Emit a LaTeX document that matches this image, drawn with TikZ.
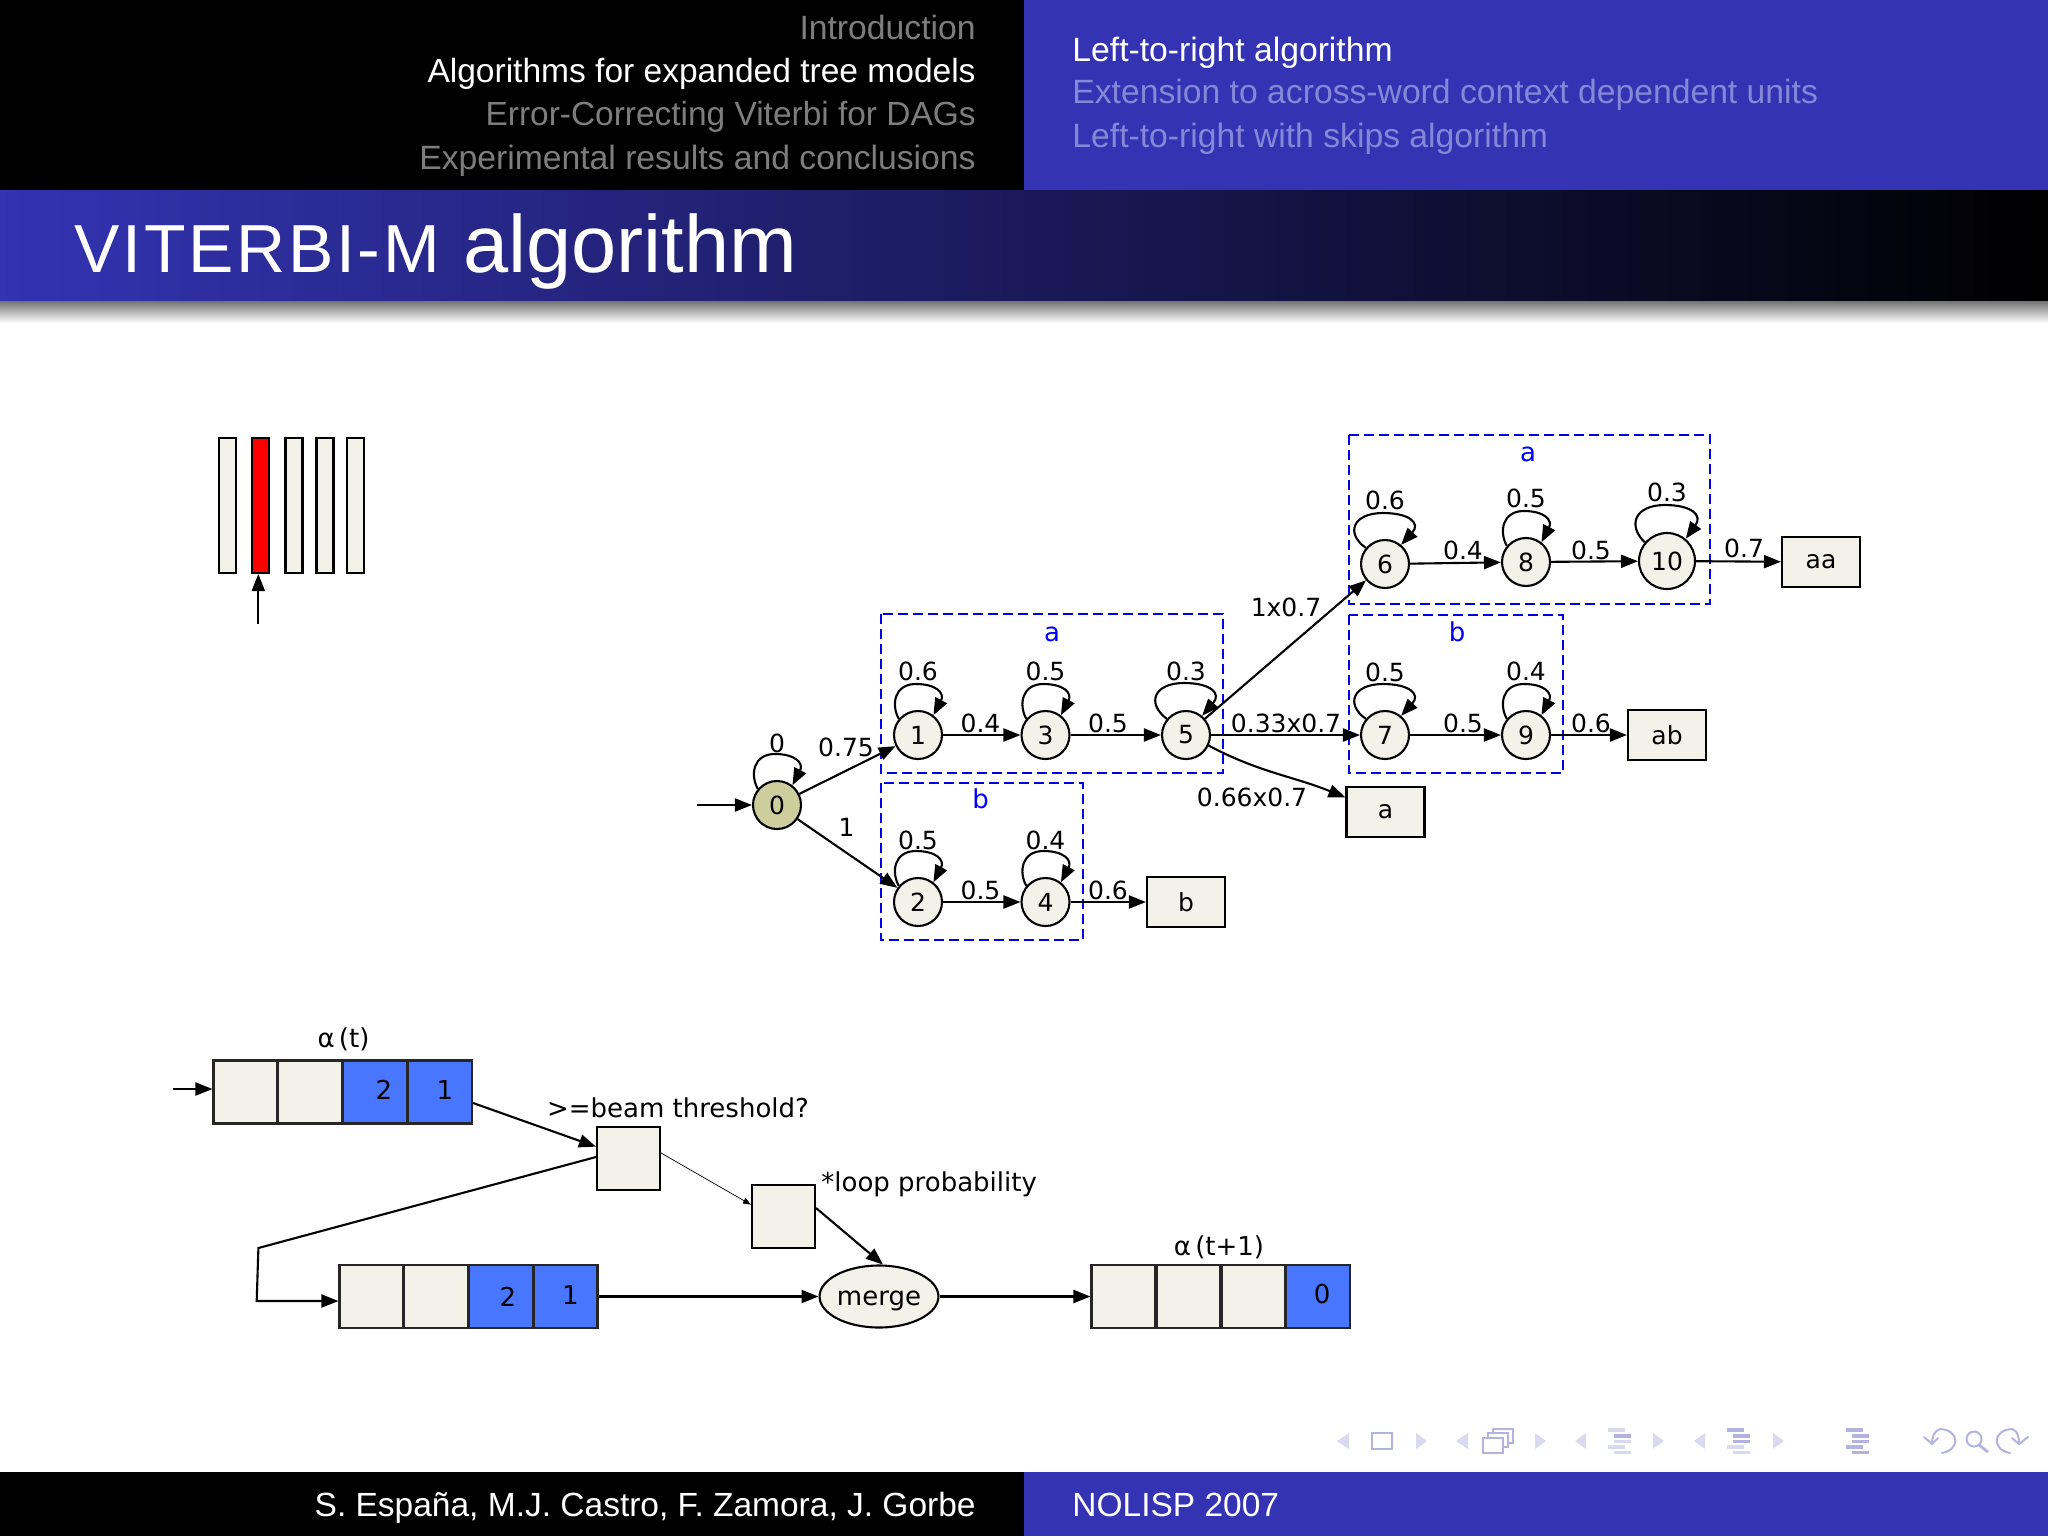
\documentclass[tikz,border=0pt]{standalone}
\usepackage{fontspec}
\setmainfont{Liberation Sans}
\newfontfamily\dvfont{DejaVu Sans}
\usetikzlibrary{arrows.meta,shapes.geometric,calc}
\definecolor{bblue}{RGB}{51,51,179}
\definecolor{ivory}{RGB}{242,242,233}
\definecolor{khaki}{RGB}{205,205,158}
\definecolor{cellblue}{RGB}{72,118,255}
\definecolor{navdark}{RGB}{179,179,225}
\definecolor{navlight}{RGB}{217,217,240}
\definecolor{dimgray}{RGB}{125,125,125}
\definecolor{dimblue}{RGB}{135,135,215}
\tikzset{
  x=0.5pt,y=0.5pt,
  conn/.style={line width=1.05pt,-{Triangle[length=8.5pt,width=6.5pt]}},
  thinconn/.style={line width=0.35pt,-{Triangle[length=4pt,width=3pt]}},
  st/.style={circle,draw=black,line width=1.05pt,fill=ivory,minimum size=24pt,inner sep=0pt,font=\dvfont\fontsize{12.5}{14}\selectfont},
  fin/.style={rectangle,draw=black,line width=1.05pt,fill=ivory,minimum width=39pt,minimum height=25pt,inner sep=0pt,font=\dvfont\fontsize{12.5}{14}\selectfont},
  cluster/.style={draw=blue!90!black,line width=1.15pt,dash pattern=on 5pt off 2.5pt},
  clab/.style={text=blue,inner sep=0pt,font=\dvfont\fontsize{13}{14}\selectfont},
  lab/.style={inner sep=0pt,font=\dvfont\fontsize{12.5}{14}\selectfont},
  biglab/.style={inner sep=0pt,font=\dvfont\fontsize{13}{15}\selectfont},
  cell/.style={rectangle,draw=black!85,line width=1.05pt,fill=ivory,minimum width=32pt,minimum height=31.5pt,inner sep=0pt,font=\dvfont\fontsize{13}{14}\selectfont},
  bcell/.style={cell,fill=cellblue},
  bar/.style={rectangle,draw=black,line width=1.05pt,fill=ivory,minimum width=8.5pt,minimum height=67.5pt,inner sep=0pt},
  headtxt/.style={inner sep=0pt,font=\fontsize{16.85}{20}\selectfont},
  foottxt/.style={inner sep=0pt,font=\fontsize{16.75}{20}\selectfont},
  tri/.style={fill=navlight,draw=none},
  navline/.style={draw=navdark,line width=1pt},
}
\newcommand{\selfloop}[1]{\draw[conn] (#1.140) .. controls ($(#1.center)+(-27,30)$) and ($(#1.center)+(-24,51)$) .. ($(#1.center)+(-2,51)$) .. controls ($(#1.center)+(18,51)$) and ($(#1.center)+(27,42)$) .. (#1.52);}
\newcommand{\selfloopB}[2]{\draw[conn] (#1.140) .. controls ($(#1.center)+(-40,#2-20)$) and ($(#1.center)+(-32,#2)$) .. ($(#1.center)+(-2,#2)$) .. controls ($(#1.center)+(24,#2)$) and ($(#1.center)+(36,#2-10)$) .. (#1.50);}
\newcommand{\navtri}[4]{\fill[tri] (#1,-1441) -- (#2,-1433) -- (#2,-1449) -- cycle;\fill[tri] (#3,-1441) -- (#4,-1433) -- (#4,-1449) -- cycle;}
\newcommand{\navbars}[6]{%
  \fill[#2] (#1,-1428) rectangle ++(17,-4);
  \fill[#3] (#1+6,-1434) rectangle ++(17,-3.5);
  \fill[#4] (#1+6,-1439.5) rectangle ++(17,-3.5);
  \fill[#5] (#1,-1445) rectangle ++(17,-3.5);
  \fill[#6] (#1+6,-1450.5) rectangle ++(17,-3.5);}
\newcommand{\dig}[2]{\raisebox{#1}[0pt][0pt]{#2}}
\begin{document}
\begin{tikzpicture}
\useasboundingbox (0,0) rectangle (2048,-1536);
% header and footer
\fill[white] (0,0) rectangle (2048,-1536);
\fill[black] (0,0) rectangle (1024,-190);
\fill[bblue] (1024,0) rectangle (2048,-190);
\shade[left color=bblue,right color=black] (0,-190) rectangle (2048,-301);
\shade[top color=black!55,bottom color=white] (0,-301) rectangle (2048,-323);
\fill[black] (0,-1472) rectangle (1024,-1536);
\fill[bblue] (1024,-1472) rectangle (2048,-1536);
\node[headtxt,anchor=base east,text=dimgray] (h1) at (976,-40) {Introduction};
\node[headtxt,anchor=base east,text=white,font=\fontsize{16.77}{20}\selectfont] (h2) at (976,-83) {Algorithms for expanded tree models};
\node[headtxt,anchor=base east,text=dimgray,font=\fontsize{16.72}{20}\selectfont] (h3) at (976,-126) {Error-Correcting Viterbi for DAGs};
\node[headtxt,anchor=base east,text=dimgray] (h4) at (976,-169) {Experimental results and conclusions};
\node[headtxt,anchor=base west,text=white] (r1) at (1072,-62) {Left-to-right algorithm};
\node[headtxt,anchor=base west,text=dimblue] (r2) at (1072,-104) {Extension to across-word context dependent units};
\node[headtxt,anchor=base west,text=dimblue] (r3) at (1072,-148) {Left-to-right with skips algorithm};
\node[inner sep=0pt,anchor=base west,text=white,font=\fontsize{34}{38}\selectfont] (t1) at (74,-272) {\addfontfeature{LetterSpace=4}VITERBI-M};
\node[inner sep=0pt,anchor=base west,text=white,font=\fontsize{40.6}{46}\selectfont] (t2) at (463,-272) {algorithm};
\node[foottxt,anchor=base east,text=white] (f1) at (976,-1516) {S. España, M.J. Castro, F. Zamora, J. Gorbe};
\node[foottxt,anchor=base west,text=white] (f2) at (1072,-1516) {NOLISP 2007};
% nav icons
\navtri{1337}{1349}{1456}{1468}
\fill[tri] (1427,-1441) -- (1416,-1433) -- (1416,-1449) -- cycle;
\fill[tri] (1546,-1441) -- (1535,-1433) -- (1535,-1449) -- cycle;
\navtri{1575}{1586}{1694}{1705}
\fill[tri] (1664,-1441) -- (1653,-1433) -- (1653,-1449) -- cycle;
\fill[tri] (1784,-1441) -- (1773,-1433) -- (1773,-1449) -- cycle;
\draw[navline] (1372,-1433) rectangle (1392,-1449);
\draw[navline,fill=white] (1493,-1429) rectangle (1513,-1443);
\draw[navline,fill=white] (1488,-1433) rectangle (1508,-1447);
\draw[navline,fill=white] (1483,-1438) rectangle (1503,-1453);
\navbars{1608}{navlight}{navdark}{navlight}{navlight}{navlight}
\navbars{1727}{navdark}{navdark}{navdark}{navlight}{navlight}
\navbars{1846}{navdark}{navdark}{navdark}{navdark}{navdark}
\draw[navline,line cap=round] (1942,-1453) .. controls (1960,-1450) and (1960,-1430) .. (1940,-1429) .. controls (1934,-1431) and (1932,-1437) .. (1932,-1444);
\draw[navline,line cap=round] (1924,-1437) -- (1932,-1444) -- (1938,-1438);
\draw[navline] (1974,-1439) circle (7.5);
\draw[navdark,line width=1.4pt] (1979,-1445) -- (1988,-1452);
\draw[navline,line cap=round] (2010,-1453) .. controls (1992,-1450) and (1992,-1430) .. (2012,-1429) .. controls (2018,-1431) and (2019,-1437) .. (2019,-1444);
\draw[navline,line cap=round] (2012,-1438) -- (2019,-1444) -- (2028,-1437);
% time bars
\node[bar] (b1) at (227.5,-505.5) {};
\node[bar,fill=red] (b2) at (260.5,-505.5) {};
\node[bar] (b3) at (294,-505.5) {};
\node[bar] (b4) at (325,-505.5) {};
\node[bar] (b5) at (355.5,-505.5) {};
\coordinate (bstart) at (258.3,-624);
\draw[conn] (bstart) -- (258.3,-574);
% clusters
\draw[cluster] (881,-614) rectangle (1223,-773);
\draw[cluster] (881,-783) rectangle (1083,-940);
\draw[cluster] (1349,-435) rectangle (1710,-604);
\draw[cluster] (1349,-615) rectangle (1563,-773);
\node[clab] (ca1) at (1052,-634) {a};
\node[clab] (cb1) at (980.5,-799) {b};
\node[clab] (ca2) at (1528,-454) {a};
\node[clab] (cb2) at (1457,-632) {b};
% states
\node[st,fill=khaki] (n0) at (777,-805) {0};
\node[st] (n1) at (918,-735) {1};
\node[st] (n3) at (1045.5,-735) {3};
\node[st] (n5) at (1186,-735) {5};
\node[st] (n2) at (918,-902) {2};
\node[st] (n4) at (1045.5,-902) {4};
\node[st] (n6) at (1385,-564) {6};
\node[st] (n8) at (1526,-562) {8};
\node[st,minimum size=28pt] (n10) at (1667,-561) {10};
\node[st] (n7) at (1385,-735) {7};
\node[st] (n9) at (1526,-735) {9};
\node[fin] (faa) at (1821,-562) {aa};
\node[fin] (fab) at (1667,-735) {ab};
\node[fin] (fa) at (1385.5,-812) {a};
\node[fin] (fb) at (1186,-902) {b};
% edges
\coordinate (start0) at (697,-805);
\draw[conn] (start0) -- (n0);
\draw[conn] (n0) -- (n1);
\draw[conn] (n0) -- (n2);
\draw[conn] (n1) -- (n3);
\draw[conn] (n3) -- (n5);
\draw[conn] (n2) -- (n4);
\draw[conn] (n4) -- (fb);
\draw[conn] (n5) -- (n6);
\draw[conn] (n5) -- (n7);
\draw[conn] (n5.-25) to[out=-28,in=158] (fa.160);
\draw[conn] (n6) -- (n8);
\draw[conn] (n8) -- (n10);
\draw[conn] (n10) -- (faa);
\draw[conn] (n7) -- (n9);
\draw[conn] (n9) -- (fab);
\selfloop{n0}\selfloop{n1}\selfloop{n3}\selfloopB{n5}{52}\selfloop{n2}\selfloop{n4}
\selfloopB{n6}{51}\selfloop{n8}\selfloopB{n10}{56}\selfloopB{n7}{51}\selfloop{n9}
% edge labels
\node[lab] (l0) at (777,-743) {0};
\node[lab] (l1) at (846,-747) {0.75};
\node[lab] (l2) at (846.5,-827) {1};
\node[lab] (l3) at (918,-671) {0.6};
\node[lab] (l4) at (1045.5,-671) {0.5};
\node[lab] (l5) at (1186,-671) {0.3};
\node[lab] (l6) at (980.5,-723) {0.4};
\node[lab] (l7) at (1108,-723) {0.5};
\node[lab] (l8) at (1286,-607) {1x0.7};
\node[lab] (l9) at (1286,-723) {0.33x0.7};
\node[lab] (l10) at (1252,-797) {0.66x0.7};
\node[lab] (l11) at (918,-840) {0.5};
\node[lab] (l12) at (1045.5,-840) {0.4};
\node[lab] (l13) at (980.5,-890) {0.5};
\node[lab] (l14) at (1108,-890) {0.6};
\node[lab] (l15) at (1385,-500) {0.6};
\node[lab] (l16) at (1526,-498) {0.5};
\node[lab] (l17) at (1667,-492) {0.3};
\node[lab] (l18) at (1463,-550) {0.4};
\node[lab] (l19) at (1591,-550) {0.5};
\node[lab] (l20) at (1744,-548) {0.7};
\node[lab] (l21) at (1385,-672) {0.5};
\node[lab] (l22) at (1526,-671) {0.4};
\node[lab] (l23) at (1463,-723) {0.5};
\node[lab] (l24) at (1591,-723) {0.6};
% array alpha(t)
\node[cell] (a1) at (245.5,-1092) {};
\node[cell] (a2) at (310,-1092) {};
\node[bcell] (a3) at (375,-1092) {\hspace*{9pt}\dig{-3.75pt}{2}};
\node[bcell] (a4) at (440,-1092) {\hspace*{5pt}\dig{-3.75pt}{1}};
\node[biglab] (alphat) at (343.5,-1039) {α\,(t)};
\coordinate (astart) at (172.5,-1089);
\draw[conn] (astart) -- (a1.west |- astart);
% beam and loop boxes
\node[rectangle,draw=black,line width=1.05pt,fill=ivory,minimum width=31.5pt,minimum height=31.5pt,inner sep=0pt] (beam) at (628.5,-1158.5) {};
\node[rectangle,draw=black,line width=1.05pt,fill=ivory,minimum width=31.5pt,minimum height=31.5pt,inner sep=0pt] (loopb) at (783.5,-1216.5) {};
\node[biglab] (beamlab) at (678,-1108) {>=beam threshold?};
\node[biglab,anchor=base west] (looplab) at (821,-1191) {*loop probability};
\draw[conn] (a4.east |- 472,-1103) -- (beam.160);
\draw[thinconn] (beam.east |- 661,-1153) -- (loopb.160);
% array 2
\node[cell] (c1) at (371.5,-1296.5) {};
\node[cell] (c2) at (436,-1296.5) {};
\node[bcell] (c3) at (501,-1296.5) {\hspace*{7pt}\dig{-4.75pt}{2}};
\node[bcell] (c4) at (565.5,-1296.5) {\hspace*{5pt}\dig{-4pt}{1}};
\coordinate (bend1) at (258.4,-1248);
\coordinate (bend2) at (256.7,-1301);
\draw[conn] (beam.west |- 596,-1157) -- (bend1) -- (bend2) -- (c1.west |- bend2);
% merge
\node[ellipse,draw=black,line width=1.05pt,fill=ivory,minimum width=55.5pt,minimum height=31pt,inner sep=0pt,font=\dvfont\fontsize{13}{15}\selectfont] (merge) at (879,-1296.5) {\dig{-4.3pt}{merge}};
\draw[conn] (c4) -- (merge);
\draw[conn] (loopb.east |- 815,-1208) -- (merge.83);
% array 3
\node[cell] (d1) at (1123.5,-1296.5) {};
\node[cell] (d2) at (1188.5,-1296.5) {};
\node[cell] (d3) at (1253.5,-1296.5) {};
\node[bcell] (d4) at (1318,-1296.5) {\hspace*{4pt}\dig{-3.5pt}{0}};
\node[biglab] (alphat1) at (1219,-1247) {α\,(t+1)};
\draw[conn] (merge) -- (d1);
\end{tikzpicture}
\end{document}
